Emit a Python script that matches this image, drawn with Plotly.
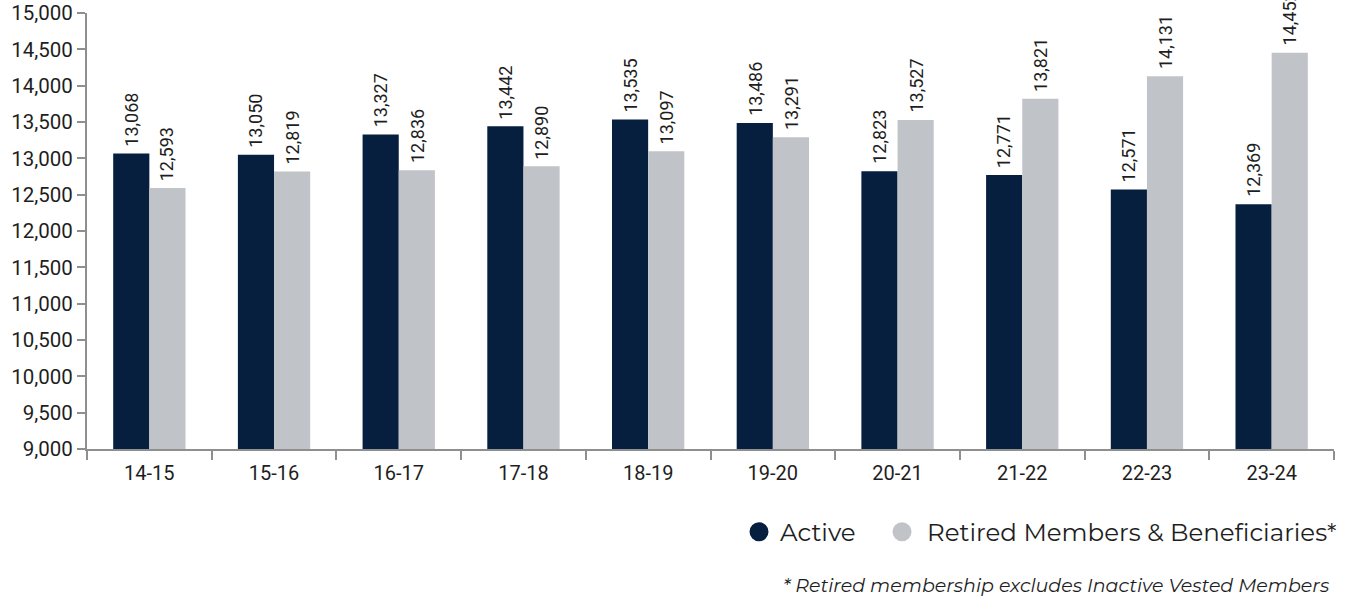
import plotly.graph_objects as go

years = ["14-15", "15-16", "16-17", "17-18", "18-19", "19-20", "20-21", "21-22", "22-23", "23-24"]
active = [13068, 13050, 13327, 13442, 13535, 13486, 12823, 12771, 12571, 12369]
retired = [12593, 12819, 12836, 12890, 13097, 13291, 13527, 13821, 14131, 14452]
y_ticks = list(range(9000, 15001, 500))

series = [("Active", active, "#061f3f"),
          ("Retired Members & Beneficiaries*", retired, "#c0c3c7")]

AXIS = "#8f8f8f"
TXT = "#1e1e1e"
LEG_FONT = "Montserrat, Open Sans, sans-serif"

fig = go.Figure()

for name, vals, col in series:
    fig.add_trace(go.Bar(
        x=years, y=vals, name=name, marker_color=col, marker_line_width=0,
        showlegend=False,
    ))

annotations = []

# vertical value labels sitting just above each bar
BAR_HALF_PX = 18
for (name, vals, col), side in zip(series, (-1, 1)):
    for yr, v in zip(years, vals):
        annotations.append(dict(
            x=yr, y=v, xref="x", yref="y", text=f"{v:,}", textangle=-90,
            xanchor="center", yanchor="bottom", xshift=side * BAR_HALF_PX, yshift=6,
            showarrow=False, borderpad=0,
            font=dict(family="Roboto", size=18, color=TXT),
        ))

# hand-built legend: round swatches followed by their labels (paper coords)
legend_items = [(0.5389, 0.5541), (0.6536, 0.6720)]
legend_y = -0.190
shapes = []
for (cx, tx), (name, _, col) in zip(legend_items, series):
    shapes.append(dict(type="circle", xref="paper", yref="paper",
                       xsizemode="pixel", ysizemode="pixel",
                       xanchor=cx, yanchor=legend_y,
                       x0=-9.5, x1=9.5, y0=-9.5, y1=9.5,
                       fillcolor=col, line=dict(width=0)))
    annotations.append(dict(text=name, xref="paper", yref="paper",
                            x=tx, xanchor="left", y=legend_y, yanchor="middle",
                            showarrow=False,
                            font=dict(family=LEG_FONT, size=24.5, color=TXT)))

annotations.append(dict(text="<i>* Retired membership excludes Inactive Vested Members</i>",
                        xref="paper", yref="paper", x=0.9976, xanchor="right",
                        y=-0.312, yanchor="middle", showarrow=False,
                        font=dict(family=LEG_FONT, size=19, color=TXT)))

fig.update_layout(
    width=1348, height=599,
    margin=dict(l=87, r=14, t=13, b=150),
    paper_bgcolor="white", plot_bgcolor="white",
    barmode="group", bargap=0.42, bargroupgap=0,
    font=dict(family="Roboto", color=TXT),
    showlegend=False,
    shapes=shapes,
    annotations=annotations,
)

fig.update_xaxes(
    type="category", showline=True, linecolor=AXIS, linewidth=2,
    ticks="outside", tickson="boundaries", ticklen=9, tickwidth=2, tickcolor=AXIS,
    tickfont=dict(family="Roboto", size=20, color=TXT), showgrid=False,
    ticklabelstandoff=5, automargin=False,
)
fig.update_yaxes(
    range=[9000, 15000], tickvals=y_ticks, ticktext=[f"{v:,}" for v in y_ticks],
    showline=True, linecolor=AXIS, linewidth=2,
    ticks="outside", ticklen=8, tickwidth=2, tickcolor=AXIS,
    tickfont=dict(family="Roboto", size=20.5, color=TXT), showgrid=False, zeroline=False,
    automargin=False,
)

fig.write_html("out.html")
